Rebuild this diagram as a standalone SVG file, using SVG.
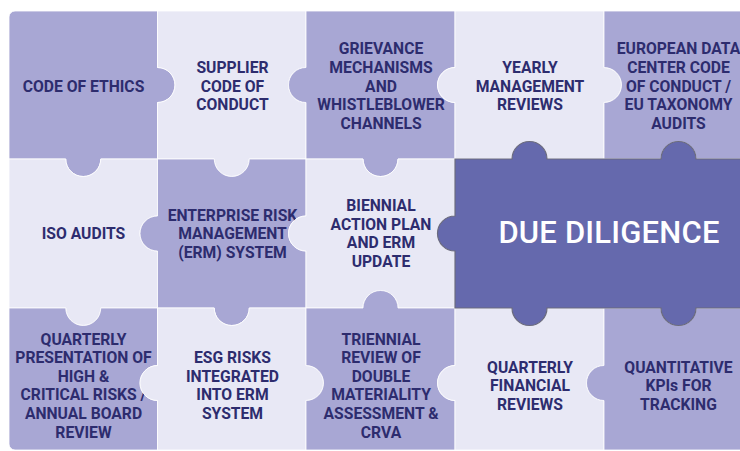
<svg xmlns="http://www.w3.org/2000/svg" width="740" height="451" viewBox="0 0 740 451">
  <style>
    .dark { fill: #A8A7D4; stroke: #FFFFFF; stroke-width: 0.8; }
    .light { fill: #E8E8F5; stroke: #FFFFFF; stroke-width: 0.8; }
    .core { fill: #6569AD; stroke: #6B6B7E; stroke-width: 1.2; }
    .lbl { font-family: Roboto, "Liberation Sans", sans-serif; font-weight: 700; font-size: 15.7px; fill: #2D2C6E; text-anchor: middle; }
    .big { font-family: Roboto, "Liberation Sans", sans-serif; font-weight: 500; font-size: 31px; letter-spacing: 0.2px; fill: #FFFFFF; text-anchor: middle; }
  </style>
  <rect width="740" height="451" fill="#FFFFFF"/>

  <!-- row 1 -->
  <g id="code-of-ethics">
    <path class="dark" d="M 9 17 A 6 6 0 0 1 15 11 H 157.5 V 67.5 A 17.5 17.5 0 0 1 157.5 102.5 V 159 H 100.75 A 17.5 17.5 0 0 1 65.75 159 H 9 Z"/>
    <text class="lbl" x="83.5" y="91.6">CODE OF ETHICS</text>
  </g>
  <g id="supplier-code">
    <path class="light" d="M 157.5 11 H 306 V 67.5 A 17.5 17.5 0 0 0 306 102.5 V 159 H 249.25 A 17.5 17.5 0 0 1 214.25 159 H 157.5 V 102.5 A 17.5 17.5 0 0 0 157.5 67.5 Z"/>
    <text class="lbl"><tspan x="232.5" y="73">SUPPLIER</tspan><tspan x="232.5" y="91.6">CODE OF</tspan><tspan x="232.5" y="110.2">CONDUCT</tspan></text>
  </g>
  <g id="grievance">
    <path class="dark" d="M 306 11 H 455 V 67.5 A 17.5 17.5 0 0 0 455 102.5 V 159 H 398 A 17.5 17.5 0 0 1 363 159 H 306 V 102.5 A 17.5 17.5 0 0 1 306 67.5 Z"/>
    <text class="lbl"><tspan x="381" y="54.4">GRIEVANCE</tspan><tspan x="381" y="73">MECHANISMS</tspan><tspan x="381" y="91.6">AND</tspan><tspan x="381" y="110.2">WHISTLEBLOWER</tspan><tspan x="381" y="128.8">CHANNELS</tspan></text>
  </g>
  <g id="yearly-reviews">
    <path class="light" d="M 455 11 H 604 V 67.5 A 17.5 17.5 0 0 1 604 102.5 V 159 H 547 A 17.5 17.5 0 0 0 512 159 H 455 V 102.5 A 17.5 17.5 0 0 1 455 67.5 Z"/>
    <text class="lbl"><tspan x="530" y="73">YEARLY</tspan><tspan x="530" y="91.6">MANAGEMENT</tspan><tspan x="530" y="110.2">REVIEWS</tspan></text>
  </g>
  <g id="eu-audits">
    <path class="dark" d="M 604 11 H 741 V 159 H 696 A 17.5 17.5 0 0 0 661 159 H 604 V 102.5 A 17.5 17.5 0 0 0 604 67.5 Z"/>
    <text class="lbl"><tspan x="678.5" y="54.4">EUROPEAN DATA</tspan><tspan x="678.5" y="73">CENTER CODE</tspan><tspan x="678.5" y="91.6">OF CONDUCT /</tspan><tspan x="678.5" y="110.2">EU TAXONOMY</tspan><tspan x="678.5" y="128.8">AUDITS</tspan></text>
  </g>

  <!-- row 2 -->
  <g id="iso-audits">
    <path class="light" d="M 9 159 H 65.75 A 17.5 17.5 0 0 0 100.75 159 H 157.5 V 216 A 17.5 17.5 0 0 0 157.5 251 V 308 H 100.75 A 17.5 17.5 0 0 1 65.75 308 H 9 Z"/>
    <text class="lbl" x="83.5" y="239.1">ISO AUDITS</text>
  </g>
  <g id="erm-system">
    <path class="dark" d="M 157.5 159 H 214.25 A 17.5 17.5 0 0 0 249.25 159 H 306 V 216 A 17.5 17.5 0 0 0 306 251 V 308 H 249.25 A 17.5 17.5 0 0 1 214.25 308 H 157.5 V 251 A 17.5 17.5 0 0 1 157.5 216 Z"/>
    <text class="lbl"><tspan x="232.5" y="220.5">ENTERPRISE RISK</tspan><tspan x="232.5" y="239.1">MANAGEMENT</tspan><tspan x="232.5" y="257.7">(ERM) SYSTEM</tspan></text>
  </g>
  <g id="biennial-plan">
    <path class="light" d="M 306 159 H 363 A 17.5 17.5 0 0 0 398 159 H 455 V 216 A 17.5 17.5 0 0 0 455 251 V 308 H 398 A 17.5 17.5 0 0 0 363 308 H 306 V 251 A 17.5 17.5 0 0 1 306 216 Z"/>
    <text class="lbl"><tspan x="381" y="211.2">BIENNIAL</tspan><tspan x="381" y="229.8">ACTION PLAN</tspan><tspan x="381" y="248.4">AND ERM</tspan><tspan x="381" y="267">UPDATE</tspan></text>
  </g>

  <!-- row 3 -->
  <g id="quarterly-presentation">
    <path class="dark" d="M 9 308 H 65.75 A 17.5 17.5 0 0 0 100.75 308 H 157.5 V 365.5 A 17.5 17.5 0 0 0 157.5 400.5 V 450 H 15 A 6 6 0 0 1 9 444 Z"/>
    <text class="lbl"><tspan x="83.5" y="344.6">QUARTERLY</tspan><tspan x="83.5" y="363.2">PRESENTATION OF</tspan><tspan x="83.5" y="381.8">HIGH &amp;</tspan><tspan x="83.5" y="400.4">CRITICAL RISKS /</tspan><tspan x="83.5" y="419">ANNUAL BOARD</tspan><tspan x="83.5" y="437.6">REVIEW</tspan></text>
  </g>
  <g id="esg-risks">
    <path class="light" d="M 157.5 308 H 214.25 A 17.5 17.5 0 0 0 249.25 308 H 306 V 365.5 A 17.5 17.5 0 0 1 306 400.5 V 450 H 157.5 V 400.5 A 17.5 17.5 0 0 1 157.5 365.5 Z"/>
    <text class="lbl"><tspan x="232.5" y="363.2">ESG RISKS</tspan><tspan x="232.5" y="381.8">INTEGRATED</tspan><tspan x="232.5" y="400.4">INTO ERM</tspan><tspan x="232.5" y="419">SYSTEM</tspan></text>
  </g>
  <g id="triennial-review">
    <path class="dark" d="M 306 308 H 363 A 17.5 17.5 0 0 1 398 308 H 455 V 365.5 A 17.5 17.5 0 0 0 455 400.5 V 450 H 306 V 400.5 A 17.5 17.5 0 0 0 306 365.5 Z"/>
    <text class="lbl"><tspan x="381" y="344.6">TRIENNIAL</tspan><tspan x="381" y="363.2">REVIEW OF</tspan><tspan x="381" y="381.8">DOUBLE</tspan><tspan x="381" y="400.4">MATERIALITY</tspan><tspan x="381" y="419">ASSESSMENT &amp;</tspan><tspan x="381" y="437.6">CRVA</tspan></text>
  </g>
  <g id="quarterly-financial">
    <path class="light" d="M 455 308 H 512 A 17.5 17.5 0 0 0 547 308 H 604 V 365.5 A 17.5 17.5 0 0 0 604 400.5 V 450 H 455 V 400.5 A 17.5 17.5 0 0 1 455 365.5 Z"/>
    <text class="lbl"><tspan x="530" y="372.5">QUARTERLY</tspan><tspan x="530" y="391.1">FINANCIAL</tspan><tspan x="530" y="409.7">REVIEWS</tspan></text>
  </g>
  <g id="quantitative-kpis">
    <path class="dark" d="M 604 308 H 661 A 17.5 17.5 0 0 0 696 308 H 741 V 450 H 604 V 400.5 A 17.5 17.5 0 0 1 604 365.5 Z"/>
    <text class="lbl"><tspan x="678.5" y="372.5">QUANTITATIVE</tspan><tspan x="678.5" y="391.1">KPIs FOR</tspan><tspan x="678.5" y="409.7">TRACKING</tspan></text>
  </g>

  <!-- central piece -->
  <g id="due-diligence">
    <path class="core" d="M 455 159 H 512 A 17.5 17.5 0 0 1 547 159 H 661 A 17.5 17.5 0 0 1 696 159 H 741 V 308 H 696 A 17.5 17.5 0 0 1 661 308 H 547 A 17.5 17.5 0 0 1 512 308 H 455 V 251 A 17.5 17.5 0 0 1 455 216 Z"/>
    <text class="big" x="609" y="243.3">DUE DILIGENCE</text>
  </g>

  <!-- no connectors: pieces interlock directly -->
  <g id="connectors"/>
</svg>
